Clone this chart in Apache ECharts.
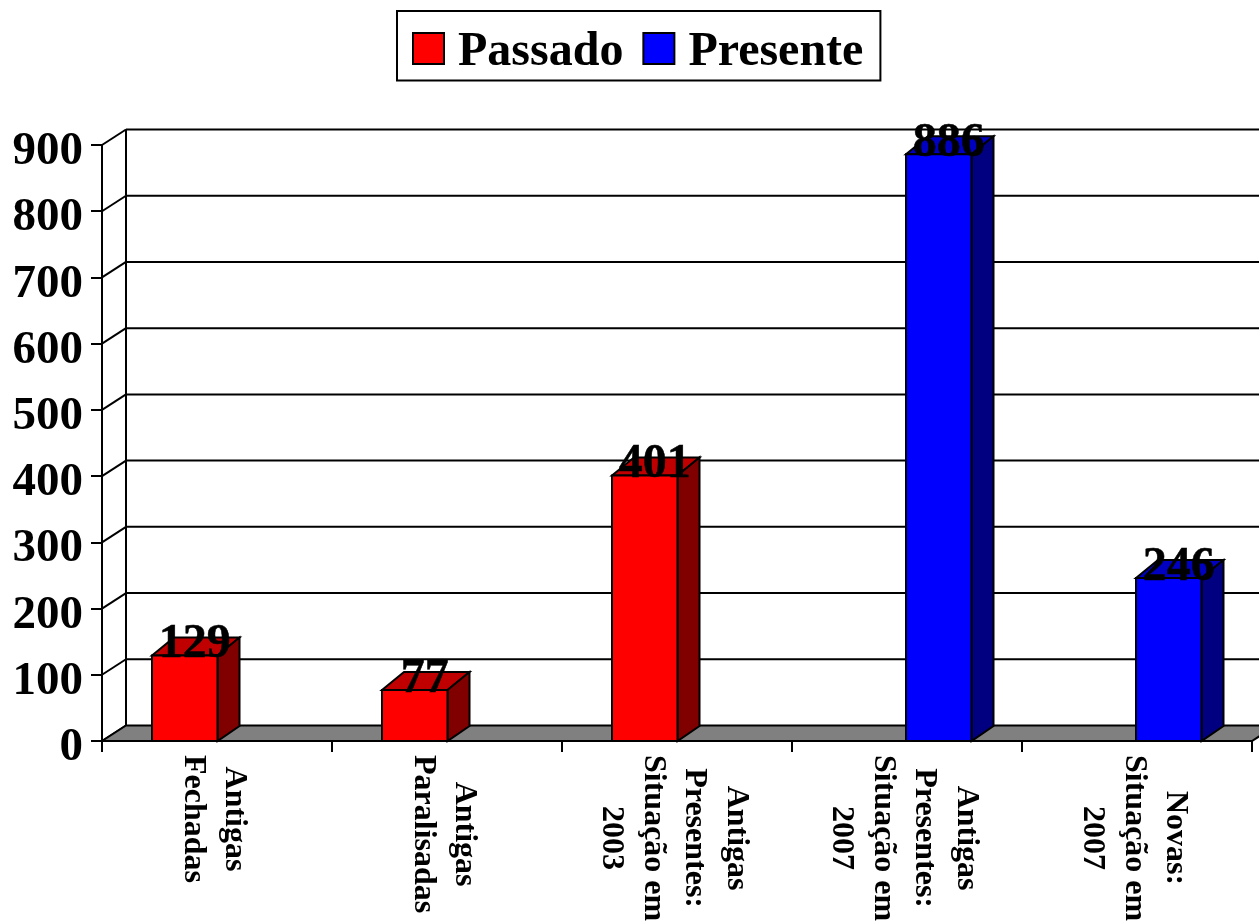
<!DOCTYPE html>
<html><head><meta charset="utf-8">
<style>html,body{margin:0;padding:0;background:#fff;overflow:hidden}#c{width:1259px;height:922px}</style>
<script src="https://cdn.jsdelivr.net/npm/echarts@6/dist/echarts.min.js"></script>
</head><body><div id="c"></div>
<script>
const categories = ['Antigas\nFechadas','Antigas\nParalisadas','Antigas\nPresentes:\nSituação em\n2003','Antigas\nPresentes:\nSituação em\n2007','Novas:\nSituação em\n2007'];
const passado = [129, 77, 401, null, null];
const presente = [null, null, null, 886, 246];
const yTicks = [0,100,200,300,400,500,600,700,800,900];

const FONT = '"Liberation Serif","Times New Roman",serif';
const DX = 22, DYB = 15, DYT = 18, BAR = 65.5, LW = 2;
const WX = 24, WY = 15.5;
const CAT_FONT = 32, CAT_LH = 41.5, CAT_TOP = 755;

const ctx = document.createElement('canvas').getContext('2d');
ctx.font = 'bold ' + CAT_FONT + 'px ' + FONT;
const longest = s => Math.max(...s.split('\n').map(l => ctx.measureText(l).width));

function barSeries(name, values, color, top, side, startOffset, z) {
  return {
    name, type: 'custom', coordinateSystem: 'cartesian2d', clip: false, z,
    itemStyle: { color },
    data: values.map((v, i) => [i, v]),
    renderItem(params, api) {
      const v = api.value(1);
      if (v == null || isNaN(v)) return null;
      const p = api.coord([api.value(0), v]);
      const b = api.coord([api.value(0), 0]);
      const x0 = p[0] + startOffset, x1 = x0 + BAR, yt = p[1], yb = b[1];
      const st = { stroke: '#000', lineWidth: LW, lineJoin: 'miter' };
      return { type: 'group', children: [
        { type: 'polygon', shape: { points: [[x0,yt],[x0+DX,yt-DYT],[x1+DX,yt-DYT],[x1,yt]] }, style: { fill: top, ...st } },
        { type: 'polygon', shape: { points: [[x1,yt],[x1+DX,yt-DYT],[x1+DX,yb-DYB],[x1,yb]] }, style: { fill: side, ...st } },
        { type: 'rect', shape: { x: x0, y: yt, width: BAR, height: yb - yt }, style: { fill: color, ...st } },
        { type: 'text', style: { x: x0 + (BAR + DX) / 2 - 1, y: yt + 13.5, text: String(v), align: 'center', verticalAlign: 'bottom',
            font: 'bold 48px ' + FONT, fill: '#000', stroke: '#000', lineWidth: 0.5 } }
      ]};
    }
  };
}

const option = {
  animation: false,
  backgroundColor: '#fff',
  legend: {
    left: 397, top: 11, orient: 'horizontal',
    data: ['Passado','Presente'],
    padding: [13, 17, 4, 15], itemGap: 19, itemWidth: 31, itemHeight: 31,
    borderColor: '#000', borderWidth: 2, backgroundColor: '#fff',
    icon: 'rect',
    itemStyle: { borderColor: '#000', borderWidth: 2 },
    formatter: name => '{s| }\n{a|' + name + '}',
    textStyle: { rich: {
      s: { fontSize: 1, lineHeight: 8 },
      a: { fontFamily: FONT, fontWeight: 'bold', fontSize: 48, lineHeight: 48, color: '#000', padding: [0,0,0,9] }
    } }
  },
  grid: { left: 102, right: 7, top: 145, bottom: 181, containLabel: false },
  xAxis: {
    type: 'category', data: categories,
    axisLine: { show: true, lineStyle: { color: '#000', width: LW } },
    axisTick: { show: true, length: 11, alignWithLabel: false, lineStyle: { color: '#000', width: LW } },
    axisLabel: { show: false }, splitLine: { show: false }
  },
  yAxis: {
    type: 'value', min: 0, max: 900, interval: 100,
    axisLine: { show: true, lineStyle: { color: '#000', width: LW } },
    axisTick: { show: true, length: 11, lineStyle: { color: '#000', width: LW } },
    axisLabel: { margin: 19, fontFamily: FONT, fontWeight: 'bold', fontSize: 47, color: '#000', verticalAlign: 'top', lineHeight: 14 },
    splitLine: { show: false }
  },
  series: [
    { type: 'custom', name: 'wall', coordinateSystem: 'cartesian2d', clip: false, z: 1, silent: true,
      data: yTicks.map(v => [0, v]),
      renderItem(params, api) {
        const v = api.value(1);
        const left = api.coord([0, v]);
        const xStart = params.coordSys.x, xEnd = xStart + params.coordSys.width;
        const y = left[1];
        const st = { stroke: '#000', lineWidth: LW };
        const kids = [
          { type: 'line', shape: { x1: xStart, y1: y, x2: xStart + WX, y2: y - WY }, style: st }
        ];
        if (v === 0) {
          kids.push({ type: 'polygon', shape: { points: [[xStart,y],[xStart+WX,y-WY],[xEnd+WX,y-WY],[xEnd,y]] }, style: { fill: '#808080', ...st } });
        } else {
          kids.push({ type: 'line', shape: { x1: xStart + WX, y1: y - WY, x2: xEnd + WX, y2: y - WY }, style: st });
          const below = api.coord([0, v - 100])[1];
          kids.push({ type: 'line', shape: { x1: xStart + WX, y1: y - WY, x2: xStart + WX, y2: below - WY }, style: st });
        }
        return { type: 'group', children: kids };
      }
    },
    barSeries('Passado', passado, '#ff0000', '#c00000', '#800000', -65, 3),
    barSeries('Presente', presente, '#0000ff', '#0000c0', '#000080', -1, 3),
    { type: 'custom', name: 'catLabels', coordinateSystem: 'cartesian2d', clip: false, z: 5, silent: true,
      data: categories.map((c, i) => [i, 0]),
      renderItem(params, api) {
        const i = api.value(0);
        const p = api.coord([i, 0]);
        const text = categories[i];
        return { type: 'text', x: p[0] - 3, y: CAT_TOP + longest(text) / 2, rotation: -Math.PI / 2,
          style: { x: 0, y: 0, text, align: 'center', verticalAlign: 'middle', font: 'bold ' + CAT_FONT + 'px ' + FONT, lineHeight: CAT_LH, fill: '#000' } };
      }
    }
  ]
};
echarts.init(document.getElementById('c'), null, { renderer: 'canvas' }).setOption(option);
</script></body></html>
